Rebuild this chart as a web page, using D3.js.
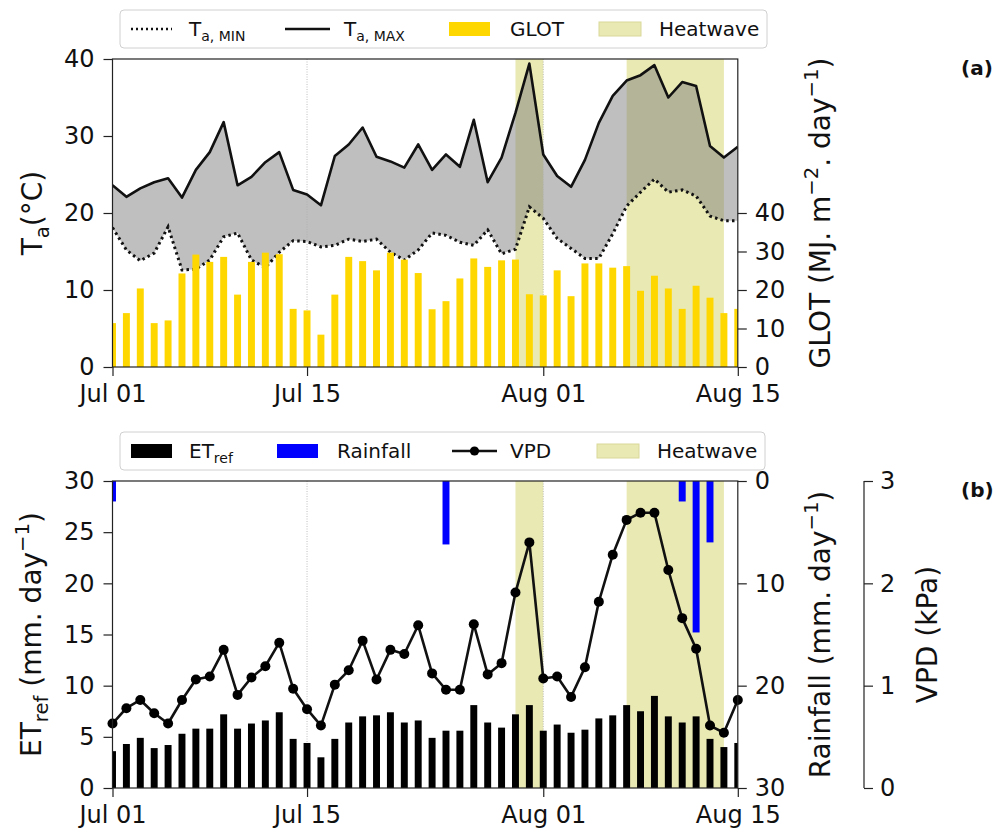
<!DOCTYPE html>
<html><head><meta charset="utf-8">
<script src="https://cdn.jsdelivr.net/npm/d3@7"></script>
<style>body{margin:0;background:#fff;} text{font-family:"DejaVu Sans",sans-serif;}</style>
</head><body><svg id="c" width="995" height="832"></svg>
<script>
// ---------------- DATA ----------------
const dates = ["2019-07-01","2019-07-02","2019-07-03","2019-07-04","2019-07-05","2019-07-06","2019-07-07","2019-07-08","2019-07-09","2019-07-10",
"2019-07-11","2019-07-12","2019-07-13","2019-07-14","2019-07-15","2019-07-16","2019-07-17","2019-07-18","2019-07-19","2019-07-20",
"2019-07-21","2019-07-22","2019-07-23","2019-07-24","2019-07-25","2019-07-26","2019-07-27","2019-07-28","2019-07-29","2019-07-30",
"2019-07-31","2019-08-01","2019-08-02","2019-08-03","2019-08-04","2019-08-05","2019-08-06","2019-08-07","2019-08-08","2019-08-09",
"2019-08-10","2019-08-11","2019-08-12","2019-08-13","2019-08-14","2019-08-15"];
const tmax = [23.6,22.1,23.2,24.0,24.5,22.0,25.6,27.9,31.8,23.6,24.7,26.6,27.9,23.0,22.4,21.0,27.4,28.9,31.1,27.3,26.7,25.9,28.9,25.6,27.6,26.0,32.1,24.0,27.2,33.0,39.4,27.6,24.8,23.4,26.9,31.7,35.2,37.2,37.9,39.2,35.0,37.0,36.5,28.7,27.2,28.6];
const tmin = [18.1,15.2,13.8,14.8,18.2,12.6,12.7,13.9,16.9,17.4,13.9,12.9,14.9,16.4,16.3,15.6,15.8,16.6,16.3,16.6,14.9,13.9,15.2,17.4,17.1,16.2,15.8,17.8,14.7,15.3,20.8,19.3,16.7,15.4,14.1,14.1,17.3,20.9,22.7,24.4,22.7,23.0,22.2,19.6,19.0,19.0];
const glot = [11.4,14.0,20.4,11.4,12.1,24.3,29.2,27.3,28.6,18.8,27.3,29.7,29.3,15.1,14.7,8.4,18.8,28.6,27.5,25.1,29.7,27.9,24.4,15.0,17.1,23.0,28.2,26.0,27.7,27.9,18.9,18.6,25.1,18.4,26.9,26.9,25.8,26.2,19.8,23.7,20.4,15.1,21.1,18.0,14.0,15.1];
const etref = [3.6,4.3,4.9,3.9,4.2,5.3,5.8,5.8,7.2,5.8,6.3,6.6,7.4,4.8,4.4,3.0,4.8,6.4,7.0,7.1,7.4,6.4,6.6,4.9,5.6,5.6,8.1,6.4,5.9,7.2,8.1,5.6,6.2,5.4,5.7,6.8,7.1,8.1,7.5,9.0,7.0,6.4,7.0,4.8,4.0,4.4];
const vpd = [0.63,0.78,0.86,0.73,0.63,0.86,1.06,1.09,1.35,0.91,1.08,1.19,1.42,0.97,0.77,0.61,1.01,1.15,1.44,1.06,1.35,1.31,1.59,1.12,0.96,0.96,1.60,1.11,1.22,1.91,2.40,1.07,1.09,0.89,1.18,1.82,2.28,2.62,2.69,2.69,2.13,1.66,1.36,0.61,0.54,0.86];
const rainfall = [2.0,0,0,0,0,0,0,0,0,0,0,0,0,0,0,0,0,0,0,0,0,0,0,0,6.2,0,0,0,0,0,0,0,0,0,0,0,0,0,0,0,0,2.0,14.8,6.0,0,0];
const heatwaves = [["2019-07-30","2019-08-01"],["2019-08-07","2019-08-14"]];
const xTicks = ["2019-07-01","2019-07-15","2019-08-01","2019-08-15"];
const tTicks = [0,10,20,30,40];
const gTicks = [0,10,20,30,40];
const etTicks = [0,5,10,15,20,25,30];
const rTicks = [0,10,20,30];
const vTicks = [0,1,2,3];

// ---------------- SETUP ----------------
const svg = d3.select('#c');
const parse = d3.timeParse('%Y-%m-%d');
const D = dates.map(parse);
const FS_TICK = 24, FS_LAB = 28, FS_LEG = 20;
const INK = '#111';
const HW = '#e9e9b3';
const GOLD = '#ffd700';
const LW = 2.6;

const x = d3.scaleTime().domain([D[0], D[D.length-1]]).range([112.5, 737.8]);
const dayW = x(D[1]) - x(D[0]);
const barW = dayW * 0.5;
const L = 112.5, R = 737.8;
const A = {top:59, bottom:367};
const B = {top:481, bottom:788};
const yT = d3.scaleLinear().domain([0,40]).range([A.bottom, A.top]);
const yG = d3.scaleLinear().domain([0,80]).range([A.bottom, A.top]);
const yE = d3.scaleLinear().domain([0,30]).range([B.bottom, B.top]);
const yR = d3.scaleLinear().domain([0,30]).range([B.top, B.bottom]);
const yV = d3.scaleLinear().domain([0,3]).range([B.bottom, B.top]);

const defs = svg.append('defs');
defs.append('clipPath').attr('id','clipA').append('rect').attr('x',L).attr('y',A.top).attr('width',R-L).attr('height',A.bottom-A.top);
defs.append('clipPath').attr('id','clipB').append('rect').attr('x',L).attr('y',B.top).attr('width',R-L).attr('height',B.bottom-B.top);

function rich(t, parts, fs){
  let cur = 0;
  parts.forEach(([s,m])=>{
    const target = m==='sub' ? fs*0.25 : m==='sup' ? -fs*0.42 : 0;
    t.append('tspan').attr('dy', target-cur).attr('font-size', m ? fs*0.7 : fs).text(s);
    cur = target;
  });
}
function styleAxis(g){
  g.select('.domain').remove();
  g.selectAll('.tick line').attr('stroke','#222').attr('stroke-width',1.2);
  g.selectAll('.tick text').attr('font-size',FS_TICK).attr('font-family','DejaVu Sans').attr('fill',INK);
}

// ================= PANEL A =================
const gA = svg.append('g').attr('clip-path','url(#clipA)');
gA.selectAll('rect.hw').data(heatwaves).join('rect')
  .attr('x',d=>x(parse(d[0]))).attr('width',d=>x(parse(d[1]))-x(parse(d[0])))
  .attr('y',A.top).attr('height',A.bottom-A.top).attr('fill',HW);
const idx = d3.range(D.length);
gA.append('path').datum(idx)
  .attr('d', d3.area().x(i=>x(D[i])).y0(i=>yT(tmin[i])).y1(i=>yT(tmax[i])))
  .attr('fill','#808080').attr('fill-opacity',0.5);
gA.selectAll('line.grid').data(xTicks.slice(1,3)).join('line')
  .attr('x1',d=>x(parse(d))).attr('x2',d=>x(parse(d))).attr('y1',A.top).attr('y2',A.bottom)
  .attr('stroke','#b0b0b0').attr('stroke-width',0.8).attr('stroke-dasharray','1,1.5');
gA.append('path').datum(idx)
  .attr('d', d3.line().x(i=>x(D[i])).y(i=>yT(tmax[i])))
  .attr('fill','none').attr('stroke','#111').attr('stroke-width',LW).attr('stroke-linejoin','round');
gA.append('path').datum(idx)
  .attr('d', d3.line().x(i=>x(D[i])).y(i=>yT(tmin[i])))
  .attr('fill','none').attr('stroke','#111').attr('stroke-width',3).attr('stroke-dasharray','2.5,3.3');
gA.selectAll('rect.glot').data(idx).join('rect')
  .attr('x',i=>x(D[i])-barW/2).attr('width',barW)
  .attr('y',i=>yG(glot[i])).attr('height',i=>yG(0)-yG(glot[i])).attr('fill',GOLD);

svg.append('rect').attr('x',L).attr('y',A.top).attr('width',R-L).attr('height',A.bottom-A.top)
  .attr('fill','none').attr('stroke','#222').attr('stroke-width',1.2);

svg.append('g').attr('transform',`translate(${L},0)`)
  .call(d3.axisLeft(yT).tickValues(tTicks).tickSize(9).tickPadding(9).tickSizeOuter(0)).call(styleAxis);
svg.append('g').attr('transform',`translate(${R},0)`)
  .call(d3.axisRight(yG).tickValues(gTicks).tickSize(9).tickPadding(8).tickSizeOuter(0)).call(styleAxis);
svg.append('g').attr('transform',`translate(0,${A.bottom})`)
  .call(d3.axisBottom(x).tickValues(xTicks.map(parse)).tickFormat(d3.timeFormat('%b %d')).tickSize(9).tickPadding(9).tickSizeOuter(0)).call(styleAxis);

// labels A
rich(svg.append('text').attr('transform',`translate(42,${(A.top+A.bottom)/2}) rotate(-90)`).attr('text-anchor','middle').attr('fill',INK),
  [['T'],['a','sub'],['(°C)']], FS_LAB);
rich(svg.append('text').attr('transform',`translate(830,${(A.top+A.bottom)/2}) rotate(-90)`).attr('text-anchor','middle').attr('fill',INK),
  [['GLOT (MJ. m'],['−2','sup'],['. day'],['−1','sup'],[')']], FS_LAB);
svg.append('text').attr('x',961).attr('y',75).attr('font-size',20).attr('font-weight','bold').attr('fill',INK).text('(a)');

// legend A
const lgA = svg.append('g');
lgA.append('rect').attr('x',120).attr('y',10).attr('width',647).attr('height',38).attr('rx',4)
  .attr('fill','#fff').attr('stroke','#d0d0d0').attr('stroke-width',1);
lgA.append('line').attr('x1',131).attr('x2',172).attr('y1',29).attr('y2',29).attr('stroke','#111').attr('stroke-width',2.4).attr('stroke-dasharray','2,3');
rich(lgA.append('text').attr('x',189).attr('y',36).attr('fill',INK), [['T'],['a, MIN','sub']], FS_LEG);
lgA.append('line').attr('x1',285).attr('x2',330).attr('y1',29).attr('y2',29).attr('stroke','#111').attr('stroke-width',LW);
rich(lgA.append('text').attr('x',344).attr('y',36).attr('fill',INK), [['T'],['a, MAX','sub']], FS_LEG);
lgA.append('rect').attr('x',449).attr('y',22).attr('width',41).attr('height',14).attr('fill',GOLD);
lgA.append('text').attr('x',510).attr('y',36).attr('font-size',FS_LEG).attr('fill',INK).text('GLOT');
lgA.append('rect').attr('x',599).attr('y',22).attr('width',42).attr('height',14).attr('fill',HW).attr('stroke','#d9d99a');
lgA.append('text').attr('x',659).attr('y',36).attr('font-size',FS_LEG).attr('fill',INK).text('Heatwave');

// ================= PANEL B =================
const gB = svg.append('g').attr('clip-path','url(#clipB)');
gB.selectAll('rect.hw').data(heatwaves).join('rect')
  .attr('x',d=>x(parse(d[0]))).attr('width',d=>x(parse(d[1]))-x(parse(d[0])))
  .attr('y',B.top).attr('height',B.bottom-B.top).attr('fill',HW);
gB.selectAll('line.grid').data(xTicks.slice(1,3)).join('line')
  .attr('x1',d=>x(parse(d))).attr('x2',d=>x(parse(d))).attr('y1',B.top).attr('y2',B.bottom)
  .attr('stroke','#b0b0b0').attr('stroke-width',0.8).attr('stroke-dasharray','1,1.5');
gB.selectAll('rect.et').data(idx).join('rect')
  .attr('x',i=>x(D[i])-barW/2).attr('width',barW)
  .attr('y',i=>yE(etref[i])).attr('height',i=>yE(0)-yE(etref[i])).attr('fill','#000');
gB.selectAll('rect.rain').data(idx.filter(i=>rainfall[i]>0)).join('rect')
  .attr('x',i=>x(D[i])-barW/2).attr('width',barW)
  .attr('y',yR(0)).attr('height',i=>yR(rainfall[i])-yR(0)).attr('fill','#0000ff');
const gV = svg.append('g');
gV.append('path').datum(idx)
  .attr('d', d3.line().x(i=>x(D[i])).y(i=>yV(vpd[i])))
  .attr('fill','none').attr('stroke','#111').attr('stroke-width',LW).attr('stroke-linejoin','round');
gV.selectAll('circle').data(idx).join('circle')
  .attr('cx',i=>x(D[i])).attr('cy',i=>yV(vpd[i])).attr('r',5).attr('fill','#000');

svg.append('rect').attr('x',L).attr('y',B.top).attr('width',R-L).attr('height',B.bottom-B.top)
  .attr('fill','none').attr('stroke','#222').attr('stroke-width',1.2);
const VX = 864;
svg.append('line').attr('x1',VX).attr('x2',VX).attr('y1',B.top).attr('y2',B.bottom).attr('stroke','#222').attr('stroke-width',1.2);

svg.append('g').attr('transform',`translate(${L},0)`)
  .call(d3.axisLeft(yE).tickValues(etTicks).tickSize(9).tickPadding(9).tickSizeOuter(0)).call(styleAxis);
svg.append('g').attr('transform',`translate(${R},0)`)
  .call(d3.axisRight(yR).tickValues(rTicks).tickSize(9).tickPadding(8).tickSizeOuter(0)).call(styleAxis);
svg.append('g').attr('transform',`translate(${VX},0)`)
  .call(d3.axisRight(yV).tickValues(vTicks).tickFormat(d3.format('d')).tickSize(9).tickPadding(7).tickSizeOuter(0)).call(styleAxis);
svg.append('g').attr('transform',`translate(0,${B.bottom})`)
  .call(d3.axisBottom(x).tickValues(xTicks.map(parse)).tickFormat(d3.timeFormat('%b %d')).tickSize(9).tickPadding(9).tickSizeOuter(0)).call(styleAxis);

rich(svg.append('text').attr('transform',`translate(41,${(B.top+B.bottom)/2}) rotate(-90)`).attr('text-anchor','middle').attr('fill',INK),
  [['ET'],['ref','sub'],[' (mm. day'],['−1','sup'],[')']], FS_LAB);
rich(svg.append('text').attr('transform',`translate(830,${(B.top+B.bottom)/2}) rotate(-90)`).attr('text-anchor','middle').attr('fill',INK),
  [['Rainfall (mm. day'],['−1','sup'],[')']], FS_LAB);
svg.append('text').attr('transform',`translate(937,${(B.top+B.bottom)/2}) rotate(-90)`).attr('text-anchor','middle')
  .attr('font-size',FS_LAB).attr('fill',INK).text('VPD (kPa)');
svg.append('text').attr('x',961).attr('y',497).attr('font-size',20).attr('font-weight','bold').attr('fill',INK).text('(b)');

// legend B
const lgB = svg.append('g');
lgB.append('rect').attr('x',120).attr('y',432).attr('width',645).attr('height',38).attr('rx',4)
  .attr('fill','#fff').attr('stroke','#d0d0d0').attr('stroke-width',1);
lgB.append('rect').attr('x',131).attr('y',444).attr('width',41).attr('height',14).attr('fill','#000');
rich(lgB.append('text').attr('x',189).attr('y',458).attr('fill',INK), [['ET'],['ref','sub']], FS_LEG);
lgB.append('rect').attr('x',277).attr('y',444).attr('width',41).attr('height',14).attr('fill','#0000ff');
lgB.append('text').attr('x',337).attr('y',458).attr('font-size',FS_LEG).attr('fill',INK).text('Rainfall');
lgB.append('line').attr('x1',452).attr('x2',497).attr('y1',451).attr('y2',451).attr('stroke','#111').attr('stroke-width',LW);
lgB.append('circle').attr('cx',474.5).attr('cy',451).attr('r',4.6).attr('fill','#000');
lgB.append('text').attr('x',510).attr('y',458).attr('font-size',FS_LEG).attr('fill',INK).text('VPD');
lgB.append('rect').attr('x',597).attr('y',444).attr('width',42).attr('height',14).attr('fill',HW).attr('stroke','#d9d99a');
lgB.append('text').attr('x',657).attr('y',458).attr('font-size',FS_LEG).attr('fill',INK).text('Heatwave');
</script></body></html>
